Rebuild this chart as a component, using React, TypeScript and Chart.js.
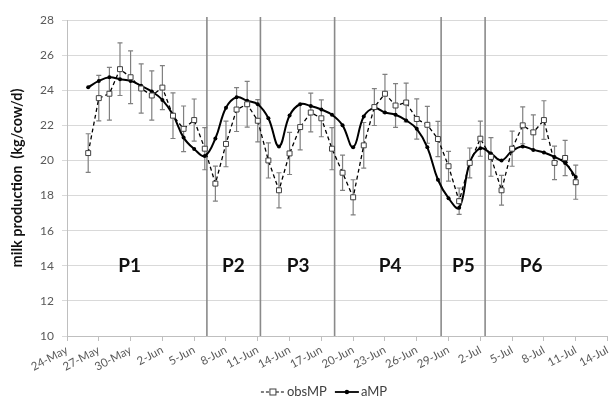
import React, { useEffect, useRef } from "react";
import { Chart, registerables } from "chart.js";
Chart.register(...registerables);

// Day offsets are counted from 24-May (day 0). First observation: 26-May.
const firstDay = 2;
const xTickLabels = [
  "24-May", "27-May", "30-May", "2-Jun", "5-Jun", "8-Jun", "11-Jun", "14-Jun", "17-Jun",
  "20-Jun", "23-Jun", "26-Jun", "29-Jun", "2-Jul", "5-Jul", "8-Jul", "11-Jul", "14-Jul",
];
const obsMP = [
  20.42, 23.55, 23.8, 25.2, 24.74, 24.1, 23.7, 24.15, 22.55, 21.8, 22.3, 20.67, 18.68, 20.94,
  22.9, 23.2, 22.26, 20.0, 18.3, 20.4, 21.9, 22.73, 22.4, 20.67, 19.3, 17.9, 20.86, 23.04,
  23.8, 23.13, 23.3, 22.36, 22.03, 21.22, 19.67, 17.68, 19.86, 21.24, 20.2, 18.3, 20.67,
  22.0, 21.6, 22.3, 19.86, 20.14, 18.76,
];
const obsErr = [
  1.1, 1.3, 1.5, 1.5, 1.5, 1.4, 1.4, 1.25, 1.3, 1.3, 1.2, 1.2, 1.0, 1.3, 1.25, 1.3, 1.2, 1.0,
  1.0, 1.2, 1.3, 1.1, 1.05, 1.2, 1.0, 1.0, 1.3, 1.05, 1.1, 1.25, 1.1, 1.15, 1.05, 1.0, 0.85,
  0.75, 0.85, 1.0, 1.1, 0.85, 1.0, 1.05, 1.0, 1.1, 0.95, 1.0, 0.97,
];
const aMP = [
  24.17, 24.53, 24.74, 24.63, 24.53, 24.25, 23.93, 23.45, 22.6, 21.3, 20.65, 20.25, 21.25,
  23.0, 23.6, 23.4, 23.2, 22.4, 20.8, 22.56, 23.2, 23.1, 22.9, 22.6, 22.0, 20.75, 22.5,
  22.98, 22.73, 22.6, 22.28, 21.8, 20.75, 18.9, 17.85, 17.3, 19.86, 20.7, 20.4, 20.0, 20.55,
  20.8, 20.6, 20.45, 20.2, 19.86, 19.05,
];
const periodBounds = [13.2, 18.25, 25.25, 35.3, 39.45];
const periodLabels = ["P1", "P2", "P3", "P4", "P5", "P6"];
const periodLabelDays = [5.9, 15.7, 21.8, 30.5, 37.4, 43.8];
const periodLabelLevel = 14;
const seriesNames = ["obsMP", "aMP"];

const FONT = "Lato, 'Open Sans', sans-serif";

const overlay = {
  id: "overlay",
  beforeDatasetsDraw(chart: any) {
    const { ctx } = chart;
    const x = chart.scales.x;
    const y = chart.scales.y;
    ctx.save();
    // period separators
    ctx.strokeStyle = "#8a8a8a";
    ctx.lineWidth = 1.6;
    periodBounds.forEach((d) => {
      const px = x.getPixelForValue(d);
      ctx.beginPath();
      ctx.moveTo(px, y.getPixelForValue(y.min));
      ctx.lineTo(px, y.getPixelForValue(y.max) - 3);
      ctx.stroke();
    });
    // error bars
    ctx.strokeStyle = "#808080";
    ctx.lineWidth = 1.2;
    obsMP.forEach((v, i) => {
      const px = x.getPixelForValue(firstDay + i);
      const t = y.getPixelForValue(v + obsErr[i]);
      const b = y.getPixelForValue(v - obsErr[i]);
      ctx.beginPath();
      ctx.moveTo(px, t);
      ctx.lineTo(px, b);
      ctx.moveTo(px - 2.5, t);
      ctx.lineTo(px + 2.5, t);
      ctx.moveTo(px - 2.5, b);
      ctx.lineTo(px + 2.5, b);
      ctx.stroke();
    });
    // period labels
    ctx.fillStyle = "#111";
    ctx.font = `bold 19px ${FONT}`;
    ctx.textAlign = "center";
    ctx.textBaseline = "middle";
    periodLabels.forEach((p, i) => {
      ctx.fillText(p, x.getPixelForValue(periodLabelDays[i]), y.getPixelForValue(periodLabelLevel));
    });
    ctx.restore();
  },
  afterDraw(chart: any) {
    const { ctx } = chart;
    ctx.save();
    ctx.font = `13px ${FONT}`;
    const seg = 24;
    const w0 = ctx.measureText(seriesNames[0]).width;
    const w1 = ctx.measureText(seriesNames[1]).width;
    const total = seg + 2 + w0 + 8 + seg + 2 + w1;
    let sx = chart.width * 0.526 - total / 2;
    const cy = chart.height - 18;
    // obsMP
    ctx.strokeStyle = "#000";
    ctx.lineWidth = 1.2;
    ctx.setLineDash([3, 2]);
    ctx.beginPath();
    ctx.moveTo(sx, cy);
    ctx.lineTo(sx + seg, cy);
    ctx.stroke();
    ctx.setLineDash([]);
    ctx.fillStyle = "#fff";
    ctx.strokeStyle = "#404040";
    ctx.lineWidth = 1;
    ctx.fillRect(sx + seg / 2 - 3, cy - 3, 6, 6);
    ctx.strokeRect(sx + seg / 2 - 3, cy - 3, 6, 6);
    sx += seg + 2;
    ctx.fillStyle = "#404040";
    ctx.textAlign = "left";
    ctx.textBaseline = "middle";
    ctx.fillText(seriesNames[0], sx, cy);
    sx += w0 + 8;
    // aMP
    ctx.strokeStyle = "#000";
    ctx.lineWidth = 1.8;
    ctx.beginPath();
    ctx.moveTo(sx, cy);
    ctx.lineTo(sx + seg, cy);
    ctx.stroke();
    ctx.fillStyle = "#000";
    ctx.beginPath();
    ctx.arc(sx + seg / 2, cy, 2.2, 0, Math.PI * 2);
    ctx.fill();
    sx += seg + 2;
    ctx.fillStyle = "#404040";
    ctx.fillText(seriesNames[1], sx, cy);
    ctx.restore();
  },
};

export default function App() {
  const ref = useRef<HTMLCanvasElement | null>(null);
  useEffect(() => {
    document.body.style.margin = "0";
    if (!ref.current) return;
    const chart = new Chart(ref.current, {
      type: "line",
      data: {
        datasets: [
          {
            label: seriesNames[0],
            data: obsMP.map((v, i) => ({ x: firstDay + i, y: v })),
            borderColor: "#000",
            borderWidth: 1.3,
            borderDash: [4, 3],
            pointStyle: "rect",
            pointRadius: 3.5,
            pointBackgroundColor: "#fff",
            pointBorderColor: "#404040",
            pointBorderWidth: 1,
            tension: 0,
          },
          {
            label: seriesNames[1],
            data: aMP.map((v, i) => ({ x: firstDay + i, y: v })),
            borderColor: "#000",
            borderWidth: 2,
            pointRadius: 2,
            pointBackgroundColor: "#000",
            pointBorderColor: "#000",
            pointBorderWidth: 0,
            tension: 0.4,
          },
        ],
      },
      options: {
        animation: false,
        responsive: true,
        maintainAspectRatio: false,
        layout: { padding: { top: 20, right: 4, bottom: 29, left: 0 } },
        plugins: { legend: { display: false }, tooltip: { enabled: false } },
        scales: {
          x: {
            type: "linear",
            min: 0,
            max: 51,
            afterFit: (s: any) => {
              s.height = 45;
            },
            ticks: {
              stepSize: 3,
              autoSkip: false,
              minRotation: 28,
              maxRotation: 28,
              padding: 2,
              color: "#595959",
              font: { family: FONT, size: 11.5 },
              callback: (v: any) => xTickLabels[Math.round(Number(v) / 3)] ?? "",
            },
            grid: { drawOnChartArea: false, drawTicks: true, tickLength: 5, color: "#bfbfbf" },
            border: { color: "#bfbfbf" },
          },
          y: {
            min: 10,
            max: 28,
            afterFit: (s: any) => {
              s.width = 67;
            },
            ticks: {
              stepSize: 2,
              padding: 8,
              color: "#595959",
              font: { family: FONT, size: 12 },
            },
            grid: { color: "#d9d9d9", tickLength: 5 },
            border: { color: "#bfbfbf" },
            title: {
              display: true,
              text: "milk production  (kg/cow/d)",
              color: "#111",
              font: { family: FONT, size: 14.5, weight: "bold" },
              padding: { top: 9, bottom: 0 },
            },
          },
        },
      },
      plugins: [overlay],
    });
    return () => chart.destroy();
  }, []);
  return (
    <div style={{ width: 616, height: 410, position: "relative" }}>
      <canvas ref={ref} />
    </div>
  );
}
